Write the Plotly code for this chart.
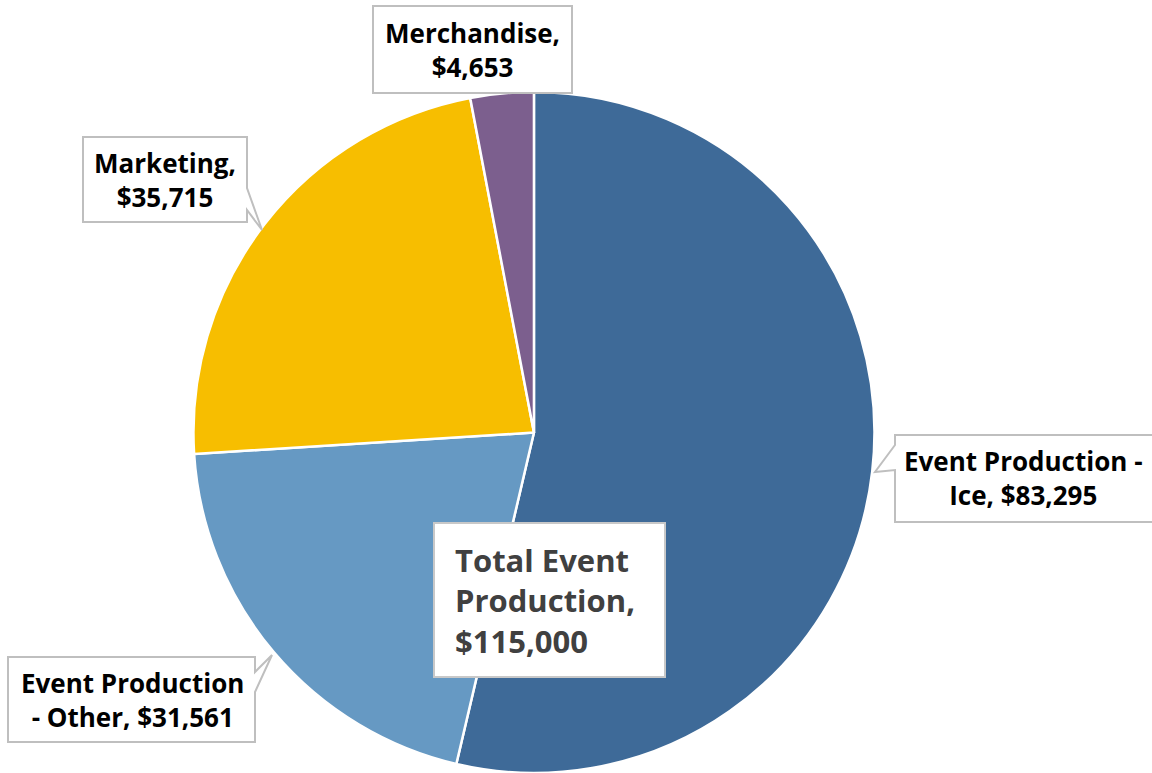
import plotly.graph_objects as go

categories = ["Event Production - Ice", "Event Production - Other", "Marketing", "Merchandise"]
label_texts = ["Event Production -<br>Ice, ", "Event Production<br>- Other, ", "Marketing,<br>", "Merchandise,<br>"]
values = [83295, 31561, 35715, 4653]
colors = ["#3E6A98", "#6699C3", "#F7BE00", "#7C5F8E"]
total_label = "Total Event<br>Production,"
total_value = 115000

W, H = 1152, 773

fig = go.Figure()
fig.add_trace(go.Pie(
    labels=categories,
    values=values,
    sort=False,
    direction="clockwise",
    rotation=0,
    marker=dict(colors=colors, line=dict(color="white", width=2.5)),
    textinfo="none",
    hoverinfo="label+value",
    showlegend=False,
    domain=dict(x=[0.1675, 0.7595], y=[0.0, 0.881]),
))

FONT = "Open Sans"
box_col = "#BFBFBF"


def px(x, y):
    return x / W, 1 - y / H


def fmt(v):
    return "${:,}".format(v)


def path(points):
    parts = []
    for i, (x, y) in enumerate(points):
        X, Y = px(x, y)
        parts.append(("M" if i == 0 else "L") + f"{X:.5f},{Y:.5f}")
    return " ".join(parts) + " Z"


# callout outlines (box + pointer wedge), pixel layout positions
outlines = [
    [(895, 435), (1158, 435), (1158, 522), (895, 522), (895, 470), (875, 472), (895, 445)],
    [(8, 657), (255, 657), (255, 672), (272, 655), (255, 692), (255, 742), (8, 742)],
    [(83, 137), (247, 137), (247, 188), (262, 230), (247, 210), (247, 222), (83, 222)],
    [(373, 6), (572, 6), (572, 93), (373, 93)],
]
text_centers = [(1023, 478), (132, 700), (165, 180), (472, 50)]

for idx in range(len(categories)):
    fig.add_shape(type="path", xref="paper", yref="paper", path=path(outlines[idx]),
                  fillcolor="white", line=dict(color=box_col, width=2), layer="above")
    x, y = px(*text_centers[idx])
    fig.add_annotation(
        x=x, y=y, xref="paper", yref="paper", showarrow=False,
        xanchor="center", yanchor="middle", align="center",
        text=label_texts[idx] + fmt(values[idx]),
        font=dict(family=FONT, size=26, color="#000000", weight="bold"),
    )

# total box
fig.add_shape(type="path", xref="paper", yref="paper",
              path=path([(434, 523), (665, 523), (665, 677), (434, 677)]),
              fillcolor="white", line=dict(color="#C8C8C8", width=2), layer="above")
tx, ty = px(453, 600)
fig.add_annotation(
    x=tx, y=ty, xref="paper", yref="paper", showarrow=False,
    xanchor="left", yanchor="middle",
    text=total_label + "<br>" + fmt(total_value),
    font=dict(family=FONT, size=31, color="#404040", weight="bold"),
    align="left",
)

fig.update_layout(
    width=W, height=H,
    margin=dict(l=0, r=0, t=0, b=0),
    paper_bgcolor="white", plot_bgcolor="white",
)

fig.write_html("out.html", config={"displayModeBar": False},
               post_script="document.body.style.margin='0px';")
